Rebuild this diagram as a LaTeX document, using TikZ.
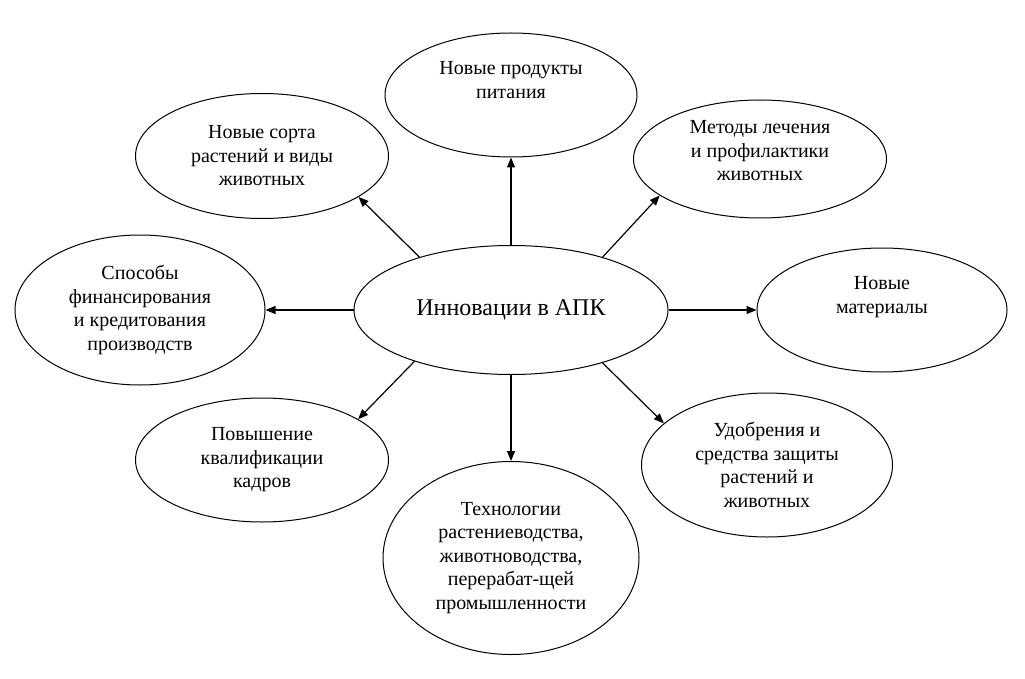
\documentclass[tikz,border=0pt]{standalone}
\usepackage{fontspec}
\setmainfont{Liberation Serif}
\usetikzlibrary{shapes.geometric, arrows.meta}

\begin{document}
\begin{tikzpicture}[x=1pt, y=-1pt,
  oval/.style={draw, ellipse, inner sep=0pt, align=center, line width=1pt, font=\fontsize{20}{23.5}\selectfont},
  wh/.style 2 args={minimum width=#1pt, minimum height=#2pt},
  arr/.style={-{Triangle[length=10pt, width=8pt]}, line width=1.2pt},
]
  \useasboundingbox (0,0) rectangle (1025,679);

  \node[oval, wh={314}{129}, font=\fontsize{24}{28}\selectfont] (apk) at (511,310) {Инновации в АПК};

  \node[oval, wh={252}{124}] (food) at (511,95) {Новые продукты\\питания\\\strut};
  \node[oval, wh={253}{125}] (breeds) at (262,156) {Новые сорта\\растений и виды\\животных};
  \node[oval, wh={253}{118}] (vet) at (760,159) {Методы лечения\\и профилактики\\животных\\[-14pt]\strut};
  \node[oval, wh={250}{150}] (finance) at (140,310) {Способы\\финансирования\\и кредитования\\производств};
  \node[oval, wh={250}{124}] (mat) at (882,310) {Новые\\материалы\\\strut};
  \node[oval, wh={253}{124}] (staff) at (262,460) {Повышение\\квалификации\\кадров};
  \node[oval, wh={251}{144}] (fert) at (767,465) {Удобрения и\\средства защиты\\растений и\\животных};
  \node[oval, wh={256}{193}] (tech) at (511,558) {Технологии\\растениеводства,\\животноводства,\\перерабат-щей\\промышленности};

  % Arrows from the centre
  \draw[arr] (apk.north) -- (food.south);
  \draw[arr] (apk.150.8) -- (breeds.-23.1);
  \draw[arr] (apk.30) -- (vet.200.8);
  \draw[arr] (apk.west) -- (finance.east);
  \draw[arr] (apk.east) -- (mat.west);
  \draw[arr] (apk.208) -- (staff.23);
  \draw[arr] (apk.330.5) -- (fert.158);
  \draw[arr] (apk.south) -- (tech.north);
\end{tikzpicture}
\end{document}
